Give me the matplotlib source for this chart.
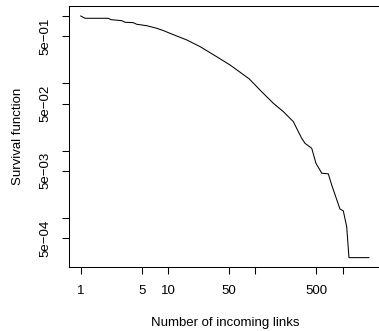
import numpy as np
import matplotlib
matplotlib.use("Agg")
import matplotlib.pyplot as plt
import matplotlib.ticker as mticker

plt.rcParams["font.family"] = ["Liberation Sans", "DejaVu Sans"]
plt.rcParams["font.size"] = 9.5

# incoming links vs. empirical survival function
links = [1, 1.12, 2.07, 2.22, 2.95, 3.22, 4.0, 4.38, 5.7, 7.43, 9.07, 10.5,
         16.4, 23.3, 36.1, 51.3, 85.3, 118, 160.8, 209.3, 272.5, 311, 340,
         371, 443, 495, 577, 686, 750, 933, 1018, 1114, 1183, 2005]
surv = [1.0, 0.924, 0.924, 0.881, 0.852, 0.806, 0.795, 0.753, 0.717, 0.656,
        0.599, 0.553, 0.440, 0.350, 0.248, 0.187, 0.116, 0.075, 0.0504,
        0.0379, 0.0269, 0.0191, 0.0152, 0.0128, 0.0108, 0.00647, 0.00461,
        0.00450, 0.00308, 0.00135, 0.00127, 0.00074, 0.000256, 0.000256]

xticks = [1, 5, 10, 50, 100, 500, 1000]
xticklabels = ["1", "5", "10", "50", "", "500", ""]
yticks = [1, 0.5, 0.1, 0.05, 0.01, 0.005, 0.001, 0.0005]
yticklabels = ["", "5e\u221201", "", "5e\u221202", "", "5e\u221203", "", "5e\u221204"]

fig = plt.figure(figsize=(3.79, 3.31), dpi=100)
ax = fig.add_axes([69.2 / 379, (331 - 267.3) / 331, 311.3 / 379, 261 / 331])

ax.plot(links, surv, color="black", linewidth=0.75)
ax.set_xscale("log")
ax.set_yscale("log")
ax.margins(0.04)

ax.xaxis.set_major_locator(mticker.FixedLocator(xticks))
ax.xaxis.set_major_formatter(mticker.FixedFormatter(xticklabels))
ax.xaxis.set_minor_locator(mticker.NullLocator())
ax.yaxis.set_major_locator(mticker.FixedLocator(yticks))
ax.yaxis.set_major_formatter(mticker.FixedFormatter(yticklabels))
ax.yaxis.set_minor_locator(mticker.NullLocator())

ax.tick_params(direction="out", length=5, width=0.75, pad=8)
for lab in ax.get_yticklabels():
    lab.set_rotation(90)
    lab.set_va("center")
for sp in ax.spines.values():
    sp.set_linewidth(0.75)

ax.set_xlabel("Number of incoming links", labelpad=14)
ax.set_ylabel("Survival function", labelpad=11)

fig.savefig("out.png", dpi=100)
